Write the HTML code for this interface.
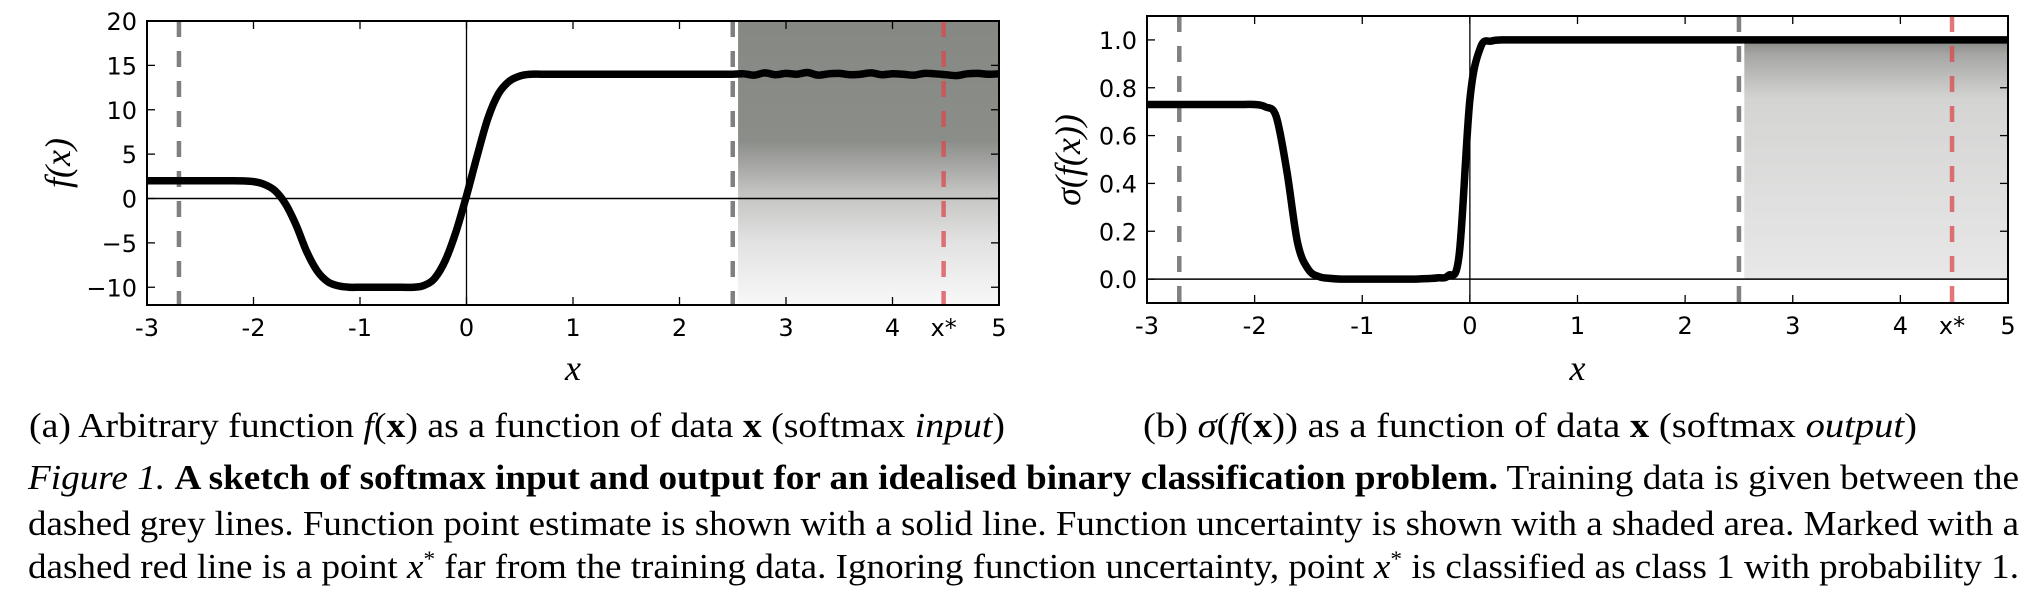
<!DOCTYPE html>
<html><head><meta charset="utf-8"><style>
html,body{margin:0;padding:0;background:#fff;}
svg{display:block;}
.tick{font-family:"DejaVu Sans","Liberation Sans",sans-serif;font-size:24px;fill:#000;}
.cap{font-family:"Liberation Serif",serif;font-size:35px;fill:#000;}
.axl{font-family:"Liberation Serif",serif;font-style:italic;font-size:36px;fill:#000;}
</style></head><body>
<svg id="fig" width="2034" height="600" viewBox="0 0 2034 600" xmlns="http://www.w3.org/2000/svg">
<defs>
<linearGradient id="gl" x1="0" y1="0" x2="0" y2="1">
<stop offset="0" stop-color="#868883"/><stop offset="0.42" stop-color="#8b8d89"/>
<stop offset="0.6" stop-color="#c2c2c0"/><stop offset="0.78" stop-color="#e2e2e2"/><stop offset="1" stop-color="#f8f8f8"/>
</linearGradient>
<linearGradient id="gr" x1="0" y1="0" x2="0" y2="1">
<stop offset="0" stop-color="#858782"/><stop offset="0.06" stop-color="#a6a7a4"/>
<stop offset="0.25" stop-color="#d4d4d3"/><stop offset="1" stop-color="#e8e8e8"/>
</linearGradient>
<clipPath id="cl"><rect x="147" y="21" width="852" height="284"/></clipPath>
<clipPath id="cr"><rect x="1147" y="16" width="861" height="287"/></clipPath>
</defs>
<g id="plots"></g>
<text class="cap" x="29" y="437" textLength="976" lengthAdjust="spacingAndGlyphs">(a) Arbitrary function <tspan font-style="italic">f</tspan>(<tspan font-weight="bold">x</tspan>) as a function of data <tspan font-weight="bold">x</tspan> (softmax <tspan font-style="italic">input</tspan>)</text>
<text class="cap" x="1143" y="437" textLength="774" lengthAdjust="spacingAndGlyphs">(b) <tspan font-style="italic">σ</tspan>(<tspan font-style="italic">f</tspan>(<tspan font-weight="bold">x</tspan>)) as a function of data <tspan font-weight="bold">x</tspan> (softmax <tspan font-style="italic">output</tspan>)</text>
<text class="cap" x="28" y="489" textLength="1991" lengthAdjust="spacingAndGlyphs"><tspan font-style="italic">Figure 1.</tspan> <tspan font-weight="bold">A sketch of softmax input and output for an idealised binary classification problem.</tspan> Training data is given between the</text>
<text class="cap" x="28" y="535" textLength="1991" lengthAdjust="spacingAndGlyphs">dashed grey lines. Function point estimate is shown with a solid line. Function uncertainty is shown with a shaded area. Marked with a</text>
<text class="cap" x="28" y="578" textLength="1991" lengthAdjust="spacingAndGlyphs">dashed red line is a point <tspan font-style="italic">x</tspan><tspan dy="-12" font-size="22">*</tspan><tspan dy="12"> far from the training data. Ignoring function uncertainty, point </tspan><tspan font-style="italic">x</tspan><tspan dy="-12" font-size="22">*</tspan><tspan dy="12"> is classified as class 1 with probability 1.</tspan></text>
</svg>
<script>
const xVals = [-3.0,-2.9,-2.8,-2.7,-2.6,-2.5,-2.4,-2.3,-2.2,-2.1,-2.0,-1.9,-1.8,-1.7,-1.6,-1.5,-1.4,-1.3,-1.2,-1.1,-1.0,-0.9,-0.8,-0.7,-0.6,-0.5,-0.4,-0.3,-0.2,-0.1,0.0,0.1,0.2,0.3,0.4,0.5,0.6,0.7,0.8,0.9,1.0,1.1,1.2,1.3,1.4,1.5,1.6,1.7,1.8,1.9,2.0,2.1,2.2,2.3,2.4,2.5,2.6,2.7,2.8,2.9,3.0,3.1,3.2,3.3,3.4,3.5,3.6,3.7,3.8,3.9,4.0,4.1,4.2,4.3,4.4,4.5,4.6,4.7,4.8,4.9,5.0];
const fVals = [2,2,2,2,2,2,2,2,2,1.98,1.9,1.6,0.9,-0.6,-3.0,-6.0,-8.2,-9.4,-9.85,-10,-10,-10,-10,-10,-10,-10,-9.8,-9.0,-7.0,-3.8,0.3,4.8,9.0,11.8,13.2,13.8,14,14,14,14,14,14,14,14,14,14,14,14,14,14,14,14,14,14,14,14,14.05,13.9,14.15,13.95,14.1,14.0,14.2,13.9,14.05,14.1,13.95,14.0,14.15,13.95,14.05,14.0,13.9,14.1,14.05,13.95,13.85,14.05,14.1,14.0,14.05];
const sVals = [0.73,0.73,0.73,0.73,0.73,0.73,0.73,0.73,0.73,0.73,0.73,0.72,0.68,0.45,0.15,0.04,0.01,0.003,0,0,0,0,0,0,0,0,0.002,0.005,0.015,0.1,0.75,0.97,0.995,1,1,1,1,1,1,1,1,1,1,1,1,1,1,1,1,1,1,1,1,1,1,1,1,1,1,1,1,1,1,1,1,1,1,1,1,1,1,1,1,1,1,1,1,1,1,1,1];
const xTicks = [-3,-2,-1,0,1,2,3,4,5];
const xTickLabels = ['-3','-2','-1','0','1','2','3','4','5'];
const yTicksL = [-10,-5,0,5,10,15,20];
const yTickLabelsL = ['\u221210','\u22125','0','5','10','15','20'];
const yTicksR = [0,0.2,0.4,0.6,0.8,1.0];
const yTickLabelsR = ['0.0','0.2','0.4','0.6','0.8','1.0'];
const trainBounds = [-2.7, 2.5];
const xStar = [4.48];
const shadeStart = [2.55];

const NS='http://www.w3.org/2000/svg';
const root=document.getElementById('plots');
function mk(tag,attrs,parent){const e=document.createElementNS(NS,tag);for(const k in attrs)e.setAttribute(k,attrs[k]);(parent||root).appendChild(e);return e;}
function smooth(pts){let d='M'+pts[0][0]+','+pts[0][1];for(let i=0;i<pts.length-1;i++){const p0=pts[Math.max(0,i-1)],p1=pts[i],p2=pts[i+1],p3=pts[Math.min(pts.length-1,i+2)];const c1=[p1[0]+(p2[0]-p0[0])/6,p1[1]+(p2[1]-p0[1])/6],c2=[p2[0]-(p3[0]-p1[0])/6,p2[1]-(p3[1]-p1[1])/6];d+=' C'+c1[0].toFixed(2)+','+c1[1].toFixed(2)+' '+c2[0].toFixed(2)+','+c2[1].toFixed(2)+' '+p2[0].toFixed(2)+','+p2[1].toFixed(2);}return d;}

function plot(cfg){
  const g=mk('g',{});
  
  
  const X=v=>cfg.L+(v-(-3))/8*(cfg.R-cfg.L);
  const Y=v=>cfg.B-(v-cfg.ymin)/(cfg.ymax-cfg.ymin)*(cfg.B-cfg.T);
  const inner=mk('g',{'clip-path':'url(#'+cfg.clip+')'},g);
  const sh=mk('rect',{x:X(shadeStart[0]),y:cfg.shadeTop(Y),width:cfg.R-X(shadeStart[0]),height:cfg.shadeBot(Y)-cfg.shadeTop(Y),fill:'url(#'+cfg.grad+')'},inner);
  
  
  const hz=mk('line',{x1:cfg.L,x2:cfg.R,y1:Y(0),y2:Y(0),stroke:'#000','stroke-width':1.5},inner);
  
  
  const vz=mk('line',{x1:X(0),x2:X(0),y1:cfg.T,y2:cfg.B,stroke:'#000','stroke-width':1.3},inner);
  
  
  trainBounds.forEach(b=>{const l=mk('line',{x1:X(b),x2:X(b),y1:cfg.T,y2:cfg.B,stroke:'#808080','stroke-width':4.5,'stroke-dasharray':'16 14'},inner);
    
    });
  const pts=xVals.map((x,i)=>[X(x),Y(cfg.vals[i])]);
  const c=mk('path',{d:smooth(pts),fill:'none',stroke:'#000','stroke-width':7.5,'stroke-linejoin':'round','stroke-linecap':'butt'},inner);
  
  
  const r=mk('line',{x1:X(xStar[0]),x2:X(xStar[0]),y1:cfg.T,y2:cfg.B,stroke:'#d9484d','stroke-opacity':0.75,'stroke-width':4.5,'stroke-dasharray':'16 14'},inner);
  
  
  const fr=mk('rect',{x:cfg.L,y:cfg.T,width:cfg.R-cfg.L,height:cfg.B-cfg.T,fill:'none',stroke:'#000','stroke-width':2},g);
  
  
  xTicks.forEach((t,i)=>{const x=X(t);
    mk('line',{x1:x,x2:x,y1:cfg.B,y2:cfg.B-8,stroke:'#000','stroke-width':1.3},g);
    mk('line',{x1:x,x2:x,y1:cfg.T,y2:cfg.T+8,stroke:'#000','stroke-width':1.3},g);
    const tl=mk('text',{x:x,y:cfg.B+31,'text-anchor':'middle',class:'tick'},g);tl.textContent=xTickLabels[i];
    
    });
  const xs=mk('text',{x:X(xStar[0]),y:cfg.B+31,'text-anchor':'middle',class:'tick'},g);xs.textContent='x*';
  
  
  cfg.yt.forEach((t,i)=>{const y=Y(t);
    mk('line',{x1:cfg.L,x2:cfg.L+8,y1:y,y2:y,stroke:'#000','stroke-width':1.3},g);
    mk('line',{x1:cfg.R,x2:cfg.R-8,y1:y,y2:y,stroke:'#000','stroke-width':1.3},g);
    const tl=mk('text',{x:cfg.L-10,y:y+9,'text-anchor':'end',class:'tick'},g);tl.textContent=cfg.ytl[i];
    
    });
  const xl=mk('text',{x:(cfg.L+cfg.R)/2,y:380,'text-anchor':'middle',class:'axl'},g);xl.textContent='x';
  
  
  const yl=mk('text',{x:0,y:0,'text-anchor':'middle',class:'axl',transform:'translate('+cfg.ylx+','+cfg.yly+') rotate(-90)'},g);yl.textContent=cfg.ylab;
  
  
}
plot({name:'plot-a-softmax-input',L:147,R:999,T:21,B:305,ymin:-12,ymax:20,vals:fVals,yt:yTicksL,ytl:yTickLabelsL,clip:'cl',grad:'gl',
  shadeTop:Y=>21,shadeBot:Y=>305,ylab:'f(x)',ylx:70,yly:163});
plot({name:'plot-b-softmax-output',L:1147,R:2008,T:16,B:303,ymin:-0.1,ymax:1.1,vals:sVals,yt:yTicksR,ytl:yTickLabelsR,clip:'cr',grad:'gr',
  shadeTop:Y=>Y(1.0),shadeBot:Y=>Y(0),ylab:'σ(f(x))',ylx:1080,yly:160});
</script>
</body></html>
